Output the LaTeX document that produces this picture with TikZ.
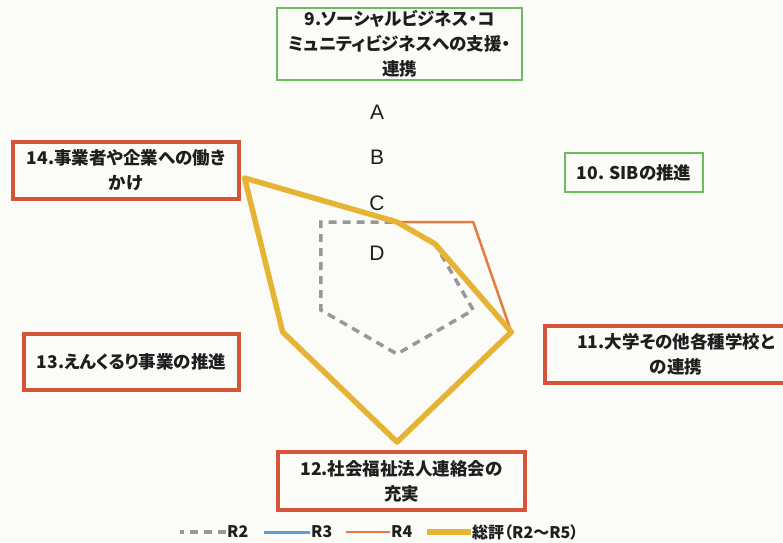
\documentclass[tikz,border=0pt]{standalone}
\usepackage{fontspec}
\setmainfont{Liberation Sans}
\newfontfamily\jp{Noto Sans CJK JP}[CharacterWidth=AlternateProportional]
\definecolor{paper}{RGB}{251,251,248}
\definecolor{ink}{RGB}{30,30,30}
\definecolor{boxred}{RGB}{214,84,58}
\definecolor{boxgreen}{RGB}{106,188,92}
\definecolor{colrtwo}{RGB}{152,152,152}
\definecolor{colrthree}{RGB}{91,160,210}
\definecolor{colrfour}{RGB}{228,124,64}
\definecolor{colreview}{RGB}{229,180,52}

\begin{document}
\begin{tikzpicture}[x=1pt,y=-1pt,
		item/.style={draw,align=center,text=ink,inner sep=0pt,font=\jp\bfseries\fontsize{17.5}{25}\selectfont},
		red item/.style={item,draw=boxred,line width=3.5pt},
		green item/.style={item,draw=boxgreen,line width=2pt},
		grade/.style={text=ink,font=\fontsize{21}{21}\selectfont},
		key/.style={anchor=west,inner sep=1pt,text=ink,font=\jp\bfseries\fontsize{16}{16}\selectfont},
		rtwo/.style={draw=colrtwo,line width=3.5pt,dash pattern=on 8pt off 6pt},
		rthree/.style={draw=colrthree,line width=3pt,line join=round},
		rfour/.style={draw=colrfour,line width=2.5pt,line join=round},
		review/.style={draw=colreview,line width=5.5pt,line join=round}]
		\clip (0,0) rectangle (783,542);
		\fill[paper] (0,0) rectangle (783,542);

		\begin{scope}[shift={(397,266)}]
			\draw[rtwo] (-90:44) -- (-30:44) -- (30:88) -- (90:88) -- (150:88) -- (210:88) -- cycle;
			\draw[rthree] (-90:44) -- (-30:44) -- (30:132) -- (90:176) -- (150:132) -- (210:176) -- cycle;
			\draw[rfour] (-90:44) -- (-30:88) -- (30:132) -- (90:176) -- (150:132) -- (210:176) -- cycle;
			\draw[review] (-90:44) -- (-30:44) -- (30:132) -- (90:176) -- (150:132) -- (210:176) -- cycle;
		\end{scope}

		\node[grade] at (377,112)(a){A};
		\node[grade] at (377,157)(b){B};
		\node[grade] at (377,203)(c){C};
		\node[grade] at (377,253)(d){D};

		\node[green item,minimum width=245,minimum height=72] at (399.5,44)(n9){9.ソーシャルビジネス・コ\\ミュニティビジネスへの支援・\\連携};
		\node[green item,minimum width=138,minimum height=39] at (634,172.5)(n10){10. SIBの推進};
		\node[red item,minimum width=262,minimum height=57] at (676,354.5)(n11){11.大学その他各種学校と\\の連携};
		\node[red item,minimum width=247,minimum height=58] at (401.5,481)(n12){12.社会福祉法人連絡会の\\充実};
		\node[red item,minimum width=215,minimum height=56] at (131.5,362)(n13){13.えんくるり事業の推進};
		\node[red item,minimum width=226,minimum height=57] at (126,170.5)(n14){14.事業者や企業への働き\\かけ};

		\node[key] at (226,532)(k2){R2};
		\node[key] at (310,532)(k3){R3};
		\node[key] at (390,532)(k4){R4};
		\node[key] at (471,532)(k5){総評（R2～R5）};
		\draw[rtwo] (k2.west) -- +(-46,0);
		\draw[rthree] (k3.west) -- +(-46,0);
		\draw[rfour] (k4.west) -- +(-44,0);
		\draw[review] (k5.west) -- +(-44,0);
	\end{tikzpicture}
\end{document}
